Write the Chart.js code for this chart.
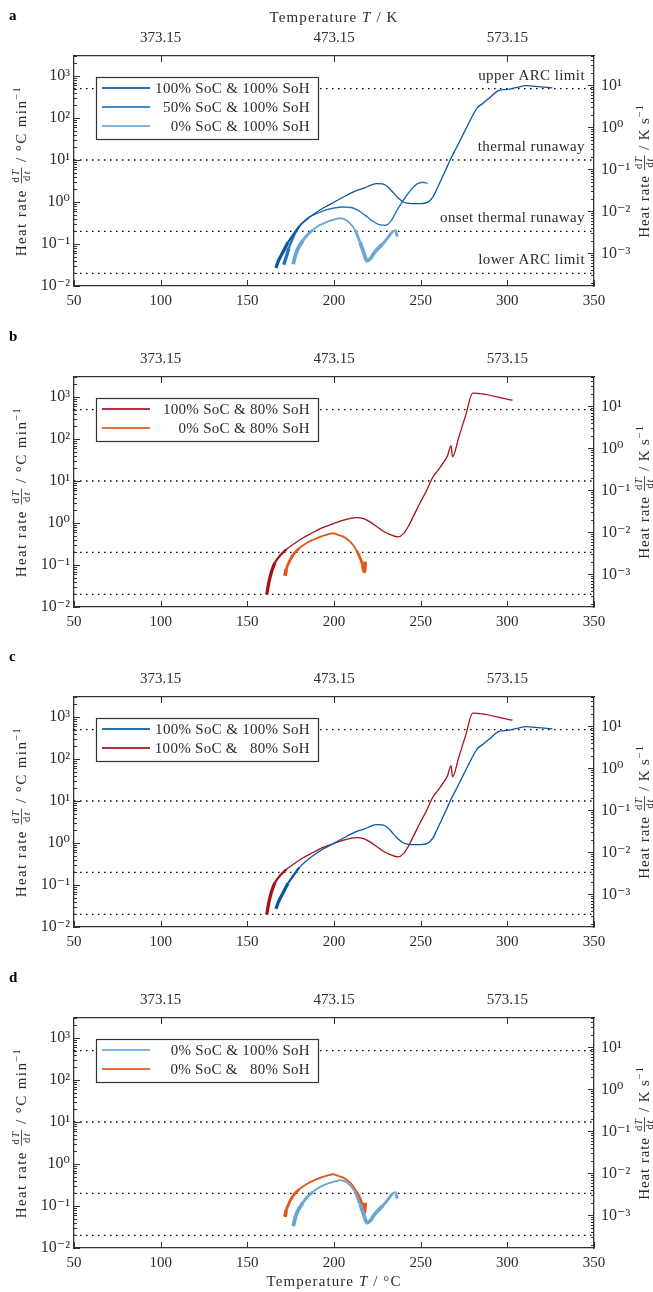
<!DOCTYPE html>
<html>
<head>
<meta charset="utf-8">
<script src="https://cdn.jsdelivr.net/npm/chart.js@4/dist/chart.umd.min.js"></script>
<style>
  body { margin: 0; background: #fff; width: 653px; height: 1292px; position: relative; overflow: hidden; }
  canvas { position: absolute; left: 0; }
</style>
</head>
<body>
<canvas id="pa" width="653" height="320" style="top:0"></canvas>
<canvas id="pb" width="653" height="320" style="top:321px"></canvas>
<canvas id="pc" width="653" height="320" style="top:641px"></canvas>
<canvas id="pd" width="653" height="330" style="top:962px"></canvas>
<script>
// axis ticks
const xTicks = [50, 100, 150, 200, 250, 300, 350];
const kelvinTicks = [100, 200, 300];          // shown as T + 273.15 on the top axis
const limitValues = [500, 10, 0.2, 0.02];
const limitNames = ['upper ARC limit', 'thermal runaway', 'onset thermal runaway', 'lower ARC limit'];

// heat rate in °C/min vs temperature in °C
const t100_100 = [166.5, 168, 170.8, 173.5, 176.5, 180, 184.2, 189, 193.8, 197.7, 202, 206, 210, 214, 218, 221, 224.6, 228, 231, 234, 237, 240, 245, 250, 254, 257, 259, 262, 265, 267, 271, 275, 279, 282.5, 286, 290, 294.8, 300, 305, 311, 316, 321, 326];
const r100_100 = [0.027, 0.04, 0.067, 0.11, 0.166, 0.26, 0.38, 0.54, 0.72, 0.88, 1.1, 1.35, 1.65, 1.95, 2.2, 2.5, 2.75, 2.7, 2.3, 1.7, 1.25, 1.0, 0.92, 0.92, 0.98, 1.3, 1.9, 3.5, 6.5, 10, 21, 45, 95, 173, 226, 310, 447, 480, 530, 590, 570, 545, 520];

const t50_100 = [171, 172.5, 174, 176, 178, 180, 182, 185, 190, 195, 200, 205, 210, 214, 218, 222, 226, 230, 233, 236, 239, 242, 245, 248, 251, 254];
const r50_100 = [0.032, 0.05, 0.08, 0.13, 0.2, 0.27, 0.33, 0.42, 0.53, 0.64, 0.72, 0.76, 0.74, 0.63, 0.48, 0.36, 0.29, 0.28, 0.36, 0.6, 0.95, 1.45, 2.1, 2.7, 2.95, 2.8];

const t0_100 = [176.5, 177.5, 179, 182, 185, 188, 191, 194, 197, 200, 203.5, 206, 209, 212, 215, 217, 219, 221, 223, 225, 228, 231, 234, 235.5, 236.5];
const r0_100 = [0.033, 0.05, 0.075, 0.12, 0.17, 0.22, 0.27, 0.31, 0.35, 0.38, 0.41, 0.39, 0.32, 0.22, 0.11, 0.065, 0.04, 0.045, 0.06, 0.075, 0.1, 0.14, 0.2, 0.21, 0.15];

const t100_80 = [161.2, 162.5, 164, 166, 169, 172.7, 177, 182, 187, 193.8, 200, 205, 210, 213, 217, 221, 225, 229, 233, 237, 240, 243, 246, 249.6, 253, 257.3, 260, 263, 265.5, 267.5, 268.4, 272, 276, 280, 303];
const r100_80 = [0.02, 0.04, 0.07, 0.115, 0.17, 0.24, 0.32, 0.44, 0.57, 0.79, 0.98, 1.15, 1.3, 1.35, 1.28, 1.05, 0.8, 0.62, 0.52, 0.47, 0.55, 0.85, 1.5, 3.0, 5.5, 13, 18, 27, 40, 70, 38, 111, 372, 1240, 840];

const t0_80 = [171.7, 172.5, 174.6, 177, 180, 184, 188, 192, 196, 199.6, 202, 205, 208, 211, 213, 215, 216.5, 217.5, 218];
const r0_80 = [0.055, 0.08, 0.13, 0.19, 0.25, 0.33, 0.4, 0.47, 0.53, 0.57, 0.53, 0.48, 0.4, 0.3, 0.22, 0.15, 0.1, 0.07, 0.12];

const FONT = "'Liberation Serif', 'DejaVu Serif', serif";
const TEXT = '#2b2b2b';
const AXIS = '#333';

Chart.defaults.font.family = FONT;
Chart.defaults.font.size = 15;
Chart.defaults.color = TEXT;

const SERIES = {
  s100_100: { t: t100_100, r: r100_100, color: '#0b559f', base: 1.3 },
  s50_100:  { t: t50_100,  r: r50_100,  color: '#2474bf', base: 1.4 },
  s0_100:   { t: t0_100,   r: r0_100,   color: '#6aa6d1', base: 1.8 },
  s100_80:  { t: t100_80,  r: r100_80,  color: '#a3111b', base: 1.3 },
  s0_80:    { t: t0_80,    r: r0_80,    color: '#e2561a', base: 1.8 }
};

const panels = [
  { id: 'pa', letter: 'a', keys: ['s100_100', 's50_100', 's0_100'],
    labels: ['100% SoC & 100% SoH', '50% SoC & 100% SoH', '0% SoC & 100% SoH'], topTitle: true, notes: true },
  { id: 'pb', letter: 'b', keys: ['s100_80', 's0_80'],
    labels: ['100% SoC & 80% SoH', '0% SoC & 80% SoH'] },
  { id: 'pc', letter: 'c', keys: ['s100_100', 's100_80'],
    labels: ['100% SoC & 100% SoH', '100% SoC &   80% SoH'] },
  { id: 'pd', letter: 'd', keys: ['s0_100', 's0_80'],
    labels: ['0% SoC & 100% SoH', '0% SoC &   80% SoH'], bottomTitle: true }
];

const SUP = { '-': '⁻', '0': '⁰', '1': '¹', '2': '²', '3': '³', '4': '⁴' };
function isDecade(v) {
  const l = Math.log10(v);
  return Math.abs(l - Math.round(l)) < 1e-6;
}
function powLabel(v) {
  if (!isDecade(v)) return '';
  return '10' + String(Math.round(Math.log10(v))).split('').map(c => SUP[c]).join('');
}
function logTicks(min, max) {
  const out = [];
  for (let e = Math.floor(Math.log10(min)); e <= Math.ceil(Math.log10(max)); e++) {
    for (let m = 1; m <= 9; m++) {
      const v = parseFloat((m * Math.pow(10, e)).toPrecision(6));
      if (v >= min * 0.999 && v <= max * 1.001) out.push({ value: v });
    }
  }
  return out;
}

// rich text: parts of {t, it, sup} or {frac: [num, den]}
function partFont(p, size) { return (p.it ? 'italic ' : '') + size + 'px ' + FONT; }
function partsWidth(ctx, parts, size) {
  let w = 0;
  for (const p of parts) {
    if (p.frac) {
      w += Math.max(partsWidth(ctx, p.frac[0], size * 0.7), partsWidth(ctx, p.frac[1], size * 0.7)) + 3;
      continue;
    }
    ctx.font = partFont(p, p.sup ? size * 0.7 : size);
    w += ctx.measureText(p.t).width;
  }
  return w;
}
function drawParts(ctx, parts, x, y, size) {
  ctx.textAlign = 'left';
  ctx.textBaseline = 'alphabetic';
  for (const p of parts) {
    if (p.frac) {
      const fs = size * 0.7;
      const wn = partsWidth(ctx, p.frac[0], fs), wd = partsWidth(ctx, p.frac[1], fs);
      const w = Math.max(wn, wd) + 3;
      const axisY = y - size * 0.3;
      drawParts(ctx, p.frac[0], x + (w - wn) / 2, axisY - 2, fs);
      drawParts(ctx, p.frac[1], x + (w - wd) / 2, axisY + fs * 0.75 + 1, fs);
      ctx.fillRect(x + 0.5, axisY - 0.4, w - 1, 0.8);
      x += w;
      continue;
    }
    const fs = p.sup ? size * 0.7 : size;
    ctx.font = partFont(p, fs);
    ctx.fillText(p.t, x, p.sup ? y - size * 0.4 : y);
    x += ctx.measureText(p.t).width;
  }
}
function drawCentered(ctx, parts, cx, cy, size, rot, spacing) {
  ctx.save();
  ctx.translate(cx, cy);
  if (rot) ctx.rotate(rot);
  ctx.letterSpacing = spacing || '0px';
  const w = partsWidth(ctx, parts, size);
  drawParts(ctx, parts, -w / 2, size * 0.33, size);
  ctx.restore();
}

const leftTitle = [{ t: 'Heat rate ' }, { frac: [[{ t: 'd' }, { t: 'T', it: true }], [{ t: 'd' }, { t: 't', it: true }]] }, { t: ' / °C min' }, { t: '−1', sup: true }];
const rightTitle = [{ t: 'Heat rate ' }, { frac: [[{ t: 'd' }, { t: 'T', it: true }], [{ t: 'd' }, { t: 't', it: true }]] }, { t: ' / K s' }, { t: '−1', sup: true }];
const topTitle = [{ t: 'Temperature ' }, { t: 'T', it: true }, { t: ' / K' }];
const bottomTitle = [{ t: 'Temperature ' }, { t: 'T', it: true }, { t: ' / °C' }];

// inward tick marks on all four sides
const innerTicks = {
  id: 'innerTicks',
  afterDraw(chart) {
    const { ctx, chartArea: a } = chart;
    ctx.save();
    ctx.strokeStyle = AXIS;
    ctx.lineWidth = 1;
    for (const s of Object.values(chart.scales)) {
      for (const t of s.ticks) {
        const len = (s.type !== 'logarithmic' || isDecade(t.value)) ? 6 : 3;
        const p = Math.round(s.getPixelForValue(t.value)) + 0.5;
        ctx.beginPath();
        if (s.position === 'bottom') { ctx.moveTo(p, a.bottom); ctx.lineTo(p, a.bottom - len); }
        else if (s.position === 'top') { ctx.moveTo(p, a.top); ctx.lineTo(p, a.top + len); }
        else if (s.position === 'left') { ctx.moveTo(a.left, p); ctx.lineTo(a.left + len, p); }
        else { ctx.moveTo(a.right, p); ctx.lineTo(a.right - len, p); }
        ctx.stroke();
      }
    }
    ctx.restore();
  }
};

const boxLegend = {
  id: 'boxLegend',
  afterDatasetsDraw(chart) {
    const items = chart.data.datasets.filter(d => !d.isLimit);
    const { ctx, chartArea: a } = chart;
    const L = a.left + 22, T = a.top + 21, W = 222, H = items.length * 19 + 5;
    ctx.save();
    ctx.fillStyle = '#fff';
    ctx.fillRect(L, T, W, H);
    ctx.strokeStyle = AXIS;
    ctx.lineWidth = 1.2;
    ctx.strokeRect(L + 0.5, T + 0.5, W, H);
    items.forEach((d, i) => {
      const y = T + 11 + i * 19;
      ctx.strokeStyle = d.borderColor;
      ctx.globalAlpha = 0.85;
      ctx.lineWidth = 2;
      ctx.beginPath();
      ctx.moveTo(L + 6, y);
      ctx.lineTo(L + 54, y);
      ctx.stroke();
      ctx.globalAlpha = 1;
      ctx.fillStyle = TEXT;
      ctx.font = '15px ' + FONT;
      ctx.letterSpacing = '0.3px';
      ctx.textAlign = 'right';
      ctx.textBaseline = 'middle';
      ctx.fillText(d.label, L + 214, y + 1);
    });
    ctx.restore();
  }
};

const decorations = {
  id: 'decorations',
  afterDraw(chart, args, opts) {
    const { ctx, chartArea: a } = chart;
    ctx.save();
    ctx.font = 'bold 15px ' + FONT;
    ctx.textAlign = 'left';
    ctx.textBaseline = 'middle';
    ctx.fillStyle = '#000';
    ctx.fillText(opts.letter, 9, 16);
    ctx.fillStyle = TEXT;
    drawCentered(ctx, leftTitle, 21, (a.top + a.bottom) / 2, 15, -Math.PI / 2, '1.4px');
    drawCentered(ctx, rightTitle, 644, (a.top + a.bottom) / 2, 15, -Math.PI / 2, '0.9px');
    if (opts.topTitle) drawCentered(ctx, topTitle, (a.left + a.right) / 2, 17, 15, 0, '1.1px');
    if (opts.bottomTitle) drawCentered(ctx, bottomTitle, (a.left + a.right) / 2, a.bottom + 33, 15, 0, '1.1px');
    if (opts.notes) {
      const y = chart.scales.y;
      ctx.font = '15px ' + FONT;
      ctx.letterSpacing = '0.4px';
      ctx.textAlign = 'right';
      ctx.textBaseline = 'alphabetic';
      limitValues.forEach((v, i) => ctx.fillText(limitNames[i], a.right - 9, y.getPixelForValue(v) - 9));
    }
    ctx.restore();
  }
};

function thickness(s) {
  return ctx => {
    const v = Math.min(ctx.p0.parsed.y, ctx.p1.parsed.y);
    if (v < 0.08) return s.base + 2;
    if (v < 0.2) return s.base + 1;
    return s.base;
  };
}

function buildPanel(p) {
  const canvas = document.getElementById(p.id);
  const H = canvas.height;
  const datasets = p.keys.map((k, i) => {
    const s = SERIES[k];
    return {
      label: p.labels[i],
      data: s.t.map((x, j) => ({ x, y: s.r[j] })),
      borderColor: s.color,
      borderWidth: s.base,
      segment: { borderWidth: thickness(s) },
      pointRadius: 0,
      cubicInterpolationMode: 'monotone',
      xAxisID: 'x',
      yAxisID: 'y'
    };
  });
  limitValues.forEach(v => datasets.push({
    label: '',
    isLimit: true,
    data: [{ x: 50, y: v }, { x: 350, y: v }],
    borderColor: '#000',
    borderWidth: 1.3,
    borderDash: [1.5, 4.5],
    pointRadius: 0,
    xAxisID: 'x',
    yAxisID: 'y'
  }));

  const border = { color: AXIS, width: 1.3 };
  new Chart(canvas, {
    type: 'line',
    data: { datasets },
    options: {
      responsive: false,
      animation: false,
      layout: { padding: 0 },
      plugins: {
        legend: { display: false },
        tooltip: { enabled: false },
        decorations: { letter: p.letter, topTitle: !!p.topTitle, bottomTitle: !!p.bottomTitle, notes: !!p.notes }
      },
      scales: {
        x: {
          type: 'linear', position: 'bottom', min: 50, max: 350,
          afterBuildTicks: s => { s.ticks = xTicks.map(v => ({ value: v })); },
          ticks: { padding: 6, maxRotation: 0, autoSkip: false },
          grid: { display: false, drawTicks: false },
          border,
          afterFit: s => { s.height = H - 286; }
        },
        xTop: {
          type: 'linear', position: 'top', min: 50, max: 350,
          afterBuildTicks: s => { s.ticks = kelvinTicks.map(v => ({ value: v })); },
          ticks: { padding: 9, maxRotation: 0, autoSkip: false, callback: v => (v + 273.15).toFixed(2) },
          grid: { display: false, drawTicks: false },
          border,
          afterFit: s => { s.height = 56; }
        },
        y: {
          type: 'logarithmic', position: 'left', min: 0.01, max: 3000,
          afterBuildTicks: s => { s.ticks = logTicks(0.01, 3000); },
          ticks: { padding: 4, autoSkip: false, callback: powLabel, font: { size: 16 } },
          grid: { display: false, drawTicks: false },
          border,
          afterFit: s => { s.width = 74; }
        },
        yR: {
          type: 'logarithmic', position: 'right', min: 0.01 / 60, max: 3000 / 60,
          afterBuildTicks: s => { s.ticks = logTicks(0.01 / 60, 3000 / 60); },
          ticks: { padding: 7, autoSkip: false, callback: powLabel, font: { size: 16 } },
          grid: { display: false, drawTicks: false },
          border,
          afterFit: s => { s.width = 59; }
        }
      }
    },
    plugins: [boxLegend, innerTicks, decorations]
  });
}

panels.forEach(buildPanel);
</script>
</body>
</html>
